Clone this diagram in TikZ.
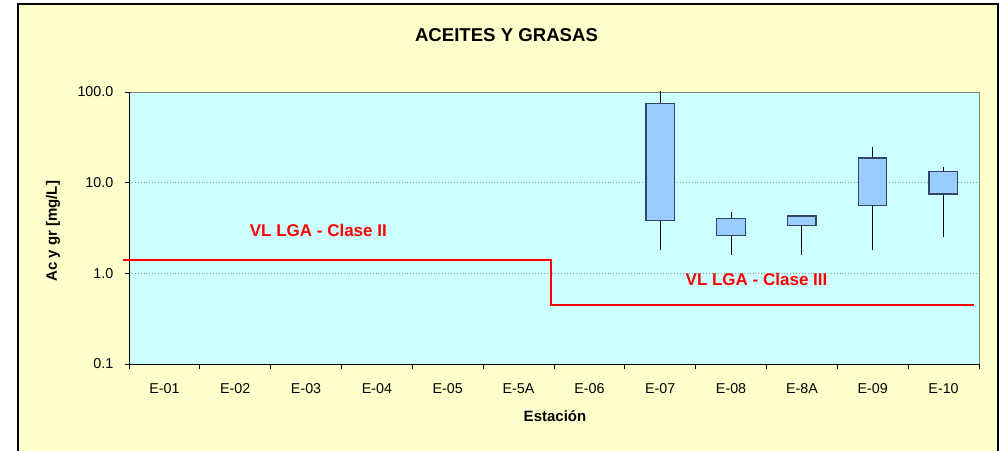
\documentclass[tikz,border=0pt]{standalone}
\usepackage{fontspec}
\setmainfont{Liberation Sans}
\definecolor{bgyellow}{HTML}{FFFFCC}
\definecolor{plotcyan}{HTML}{CCFFFF}
\definecolor{boxfill}{HTML}{99CCFF}
\definecolor{boxline}{HTML}{334466}
\definecolor{gridc}{HTML}{7FA87F}
\definecolor{limred}{HTML}{FF0000}
\begin{document}
\begin{tikzpicture}[x=1pt,y=-1pt,
  ticklab/.style={inner sep=0pt,font=\fontsize{14.3}{16}\selectfont},
  axlab/.style={inner sep=0pt,font=\fontsize{15}{17}\selectfont\bfseries},
  redlab/.style={inner sep=0pt,text=limred,font=\fontsize{17}{19}\selectfont\bfseries},
  boxst/.style={draw=boxline,fill=boxfill,line width=1.2pt},
  whisk/.style={draw=black,line width=0.9pt},
  gridst/.style={draw=gridc,dotted,line width=0.9pt}]
\useasboundingbox (0,0) rectangle (1003,450);
\fill[white] (0,0) rectangle (1003,450);
\draw[fill=bgyellow,line width=1.5pt] (18,4) rectangle (998,470);
% plot area
\fill[plotcyan] (129,92) rectangle (979,364);
\draw[gridst] (129,182.7) -- (979,182.7);
\draw[gridst] (129,273.3) -- (979,273.3);
\draw[gray,line width=0.9pt] (129,92) -- (979,92) -- (979,364);
\draw[black,line width=1pt] (129,92) -- (129,364) -- (979,364);
% y ticks
\foreach \yy/\lab/\nm in {92/100.0/ya,182.7/10.0/yb,273.3/1.0/yc,364/0.1/yd}{
  \draw[line width=0.8pt] (125,\yy) -- (129,\yy);
  \node[ticklab,anchor=east] (\nm) at (113.5,\yy) {\lab};
}
% x ticks
\foreach \i in {0,...,12}{
  \draw[line width=0.8pt] (129+70.833*\i,364) -- ++(0,5);
}
\foreach \lab [count=\i from 0] in {E-01,E-02,E-03,E-04,E-05,E-5A,E-06,E-07,E-08,E-8A,E-09,E-10}{
  \node[ticklab] (x\i) at (129+70.833*\i+35.4,389) {\lab};
}
% boxes
\foreach \cx/\wt/\bt/\bb/\wb in {660.2/91/103.3/220.7/250, 731/212/218.3/235.3/255, 801.6/215/216/225.3/255, 872.4/147/158/205.7/250, 943.3/167/171.3/194/236.7}{
  \draw[whisk] (\cx,\wt) -- (\cx,\wb);
  \draw[boxst] (\cx-14.3,\bt) rectangle (\cx+14.3,\bb);
}
% limit line
\draw[limred,line width=2pt] (123,260) -- (551,260) -- (551,304.7) -- (974.3,304.7);
\node[redlab] (c2) at (318.3,230.7) {VL LGA - Clase II};
\node[redlab] (c3) at (756.5,279) {VL LGA - Clase III};
% titles
\node[inner sep=0pt,font=\fontsize{18.6}{21}\selectfont\bfseries] (title) at (506.5,34.7) {ACEITES Y GRASAS};
\node[axlab,rotate=90] (ylab) at (53,231.3) {Ac y gr [mg/L]};
\node[axlab] (xlab) at (555,415.7) {Estación};
\end{tikzpicture}
\end{document}
